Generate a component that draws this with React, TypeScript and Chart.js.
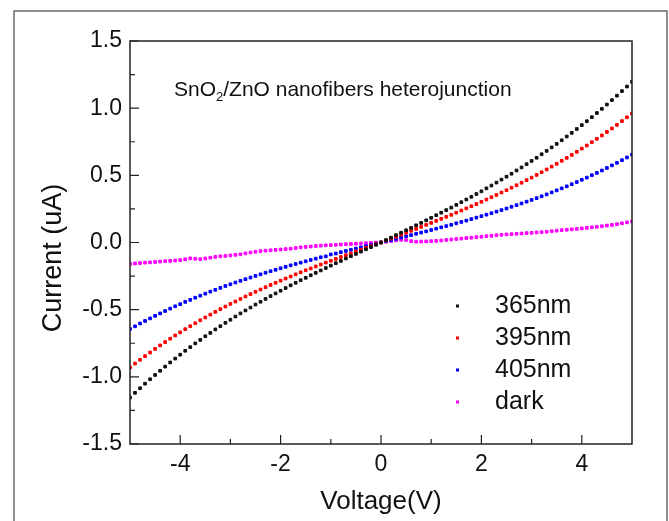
import React, { useEffect, useRef } from "react";
import { Chart, registerables } from "chart.js";

Chart.register(...registerables);

const VOLTAGE = [
  -5.0, -4.9, -4.8, -4.7, -4.6, -4.5, -4.4, -4.3, -4.2, -4.1,
  -4.0, -3.9, -3.8, -3.7, -3.6, -3.5, -3.4, -3.3, -3.2, -3.1,
  -3.0, -2.9, -2.8, -2.7, -2.6, -2.5, -2.4, -2.3, -2.2, -2.1,
  -2.0, -1.9, -1.8, -1.7, -1.6, -1.5, -1.4, -1.3, -1.2, -1.1,
  -1.0, -0.9, -0.8, -0.7, -0.6, -0.5, -0.4, -0.3, -0.2, -0.1,
  0.0,
  0.1, 0.2, 0.3, 0.4, 0.5, 0.6, 0.7, 0.8, 0.9, 1.0,
  1.1, 1.2, 1.3, 1.4, 1.5, 1.6, 1.7, 1.8, 1.9, 2.0,
  2.1, 2.2, 2.3, 2.4, 2.5, 2.6, 2.7, 2.8, 2.9, 3.0,
  3.1, 3.2, 3.3, 3.4, 3.5, 3.6, 3.7, 3.8, 3.9, 4.0,
  4.1, 4.2, 4.3, 4.4, 4.5, 4.6, 4.7, 4.8, 4.9, 5.0,
];

const I_365 = [
  -1.154, -1.119, -1.085, -1.051, -1.018, -0.986, -0.955, -0.924, -0.893, -0.864,
  -0.835, -0.806, -0.779, -0.751, -0.725, -0.698, -0.673, -0.647, -0.623, -0.598,
  -0.575, -0.551, -0.528, -0.506, -0.484, -0.462, -0.441, -0.420, -0.399, -0.379,
  -0.359, -0.339, -0.319, -0.300, -0.281, -0.263, -0.244, -0.226, -0.208, -0.190,
  -0.172, -0.154, -0.137, -0.119, -0.102, -0.085, -0.068, -0.051, -0.034, -0.017,
  0.0,
  0.018, 0.036, 0.055, 0.073, 0.091, 0.109, 0.128, 0.146, 0.165, 0.184,
  0.203, 0.222, 0.241, 0.260, 0.280, 0.300, 0.320, 0.340, 0.361, 0.381,
  0.403, 0.424, 0.446, 0.468, 0.490, 0.512, 0.536, 0.559, 0.583, 0.607,
  0.631, 0.657, 0.682, 0.708, 0.734, 0.761, 0.789, 0.816, 0.845, 0.874,
  0.903, 0.933, 0.964, 0.995, 1.027, 1.060, 1.093, 1.127, 1.161, 1.196,
];

const I_395 = [
  -0.930, -0.901, -0.873, -0.846, -0.819, -0.792, -0.766, -0.741, -0.716, -0.692,
  -0.669, -0.645, -0.623, -0.601, -0.579, -0.558, -0.537, -0.516, -0.496, -0.477,
  -0.457, -0.439, -0.420, -0.402, -0.384, -0.367, -0.350, -0.333, -0.316, -0.300,
  -0.284, -0.268, -0.253, -0.237, -0.222, -0.207, -0.193, -0.178, -0.164, -0.150,
  -0.136, -0.122, -0.108, -0.094, -0.081, -0.067, -0.054, -0.040, -0.027, -0.013,
  0.0,
  0.014, 0.029, 0.043, 0.058, 0.072, 0.087, 0.101, 0.116, 0.131, 0.146,
  0.161, 0.176, 0.191, 0.206, 0.222, 0.238, 0.254, 0.270, 0.286, 0.303,
  0.320, 0.337, 0.354, 0.372, 0.389, 0.408, 0.426, 0.445, 0.464, 0.483,
  0.503, 0.523, 0.544, 0.565, 0.586, 0.608, 0.630, 0.652, 0.675, 0.699,
  0.722, 0.747, 0.772, 0.797, 0.823, 0.849, 0.876, 0.904, 0.932, 0.960,
];

const I_405 = [
  -0.644, -0.624, -0.603, -0.584, -0.565, -0.546, -0.528, -0.510, -0.492, -0.475,
  -0.459, -0.442, -0.427, -0.411, -0.396, -0.381, -0.366, -0.352, -0.338, -0.324,
  -0.311, -0.298, -0.285, -0.273, -0.261, -0.249, -0.237, -0.225, -0.214, -0.203,
  -0.192, -0.181, -0.170, -0.160, -0.150, -0.140, -0.130, -0.120, -0.110, -0.103,
  -0.089, -0.082, -0.072, -0.063, -0.054, -0.045, -0.036, -0.027, -0.018, -0.009,
  0.0,
  0.009, 0.018, 0.027, 0.037, 0.046, 0.055, 0.065, 0.074, 0.083, 0.093,
  0.103, 0.113, 0.122, 0.132, 0.143, 0.153, 0.163, 0.174, 0.185, 0.196,
  0.207, 0.218, 0.230, 0.241, 0.253, 0.266, 0.278, 0.291, 0.304, 0.317,
  0.330, 0.344, 0.358, 0.373, 0.388, 0.403, 0.418, 0.434, 0.450, 0.467,
  0.483, 0.501, 0.518, 0.536, 0.555, 0.574, 0.593, 0.613, 0.633, 0.654,
];

const I_DARK = [
  -0.159, -0.156, -0.153, -0.150, -0.148, -0.145, -0.142, -0.139, -0.137, -0.134,
  -0.131, -0.125, -0.118, -0.121, -0.124, -0.119, -0.113, -0.107, -0.103, -0.100,
  -0.096, -0.092, -0.088, -0.081, -0.074, -0.069, -0.064, -0.061, -0.058, -0.055,
  -0.052, -0.049, -0.046, -0.041, -0.036, -0.033, -0.030, -0.026, -0.023, -0.021,
  -0.019, -0.017, -0.015, -0.013, -0.011, -0.009, -0.007, -0.005, -0.003, -0.001,
  0.002,
  0.006, 0.011, 0.016, 0.020, 0.018, 0.010, 0.006, 0.007, 0.008, 0.010,
  0.012, 0.015, 0.019, 0.022, 0.026, 0.029, 0.033, 0.036, 0.040, 0.043,
  0.047, 0.050, 0.054, 0.057, 0.060, 0.062, 0.065, 0.067, 0.070, 0.072,
  0.075, 0.077, 0.080, 0.084, 0.088, 0.092, 0.095, 0.098, 0.101, 0.105,
  0.109, 0.113, 0.117, 0.121, 0.126, 0.131, 0.136, 0.143, 0.150, 0.157,
];

const SERIES_LABELS = ["365nm", "395nm", "405nm", "dark"];
const SERIES_COLORS = ["#111111", "#ff0000", "#0000ff", "#ff00ff"];
const SERIES_VALUES = [I_365, I_395, I_405, I_DARK];

const X_TICKS = [-4, -2, 0, 2, 4];
const X_MINOR = [-3, -1, 1, 3];
const Y_TICKS = [-1.5, -1.0, -0.5, 0.0, 0.5, 1.0, 1.5];
const Y_MINOR = [-1.25, -0.75, -0.25, 0.25, 0.75, 1.25];

const X_TITLE = "Voltage(V)";
const Y_TITLE = "Current (uA)";
const TITLE_MAIN = "SnO";
const TITLE_SUB = "2";
const TITLE_REST = "/ZnO nanofibers heterojunction";

const FONT = "'Liberation Sans', Arial, sans-serif";

const decorPlugin = {
  id: "decor",
  beforeDraw(chart: any) {
    const { ctx, width, height } = chart;
    ctx.save();
    ctx.fillStyle = "#ffffff";
    ctx.fillRect(0, 0, width, height);
    ctx.restore();
  },
  afterDraw(chart: any) {
    const { ctx, chartArea: a, scales } = chart;
    const xs = scales.x;
    const ys = scales.y;
    ctx.save();

    // outer frame
    ctx.strokeStyle = "#6a6a6a";
    ctx.lineWidth = 1.5;
    ctx.strokeRect(14, 11, 653, 540);

    // plot box
    ctx.strokeStyle = "#222222";
    ctx.lineWidth = 1.5;
    ctx.strokeRect(a.left, a.top, a.right - a.left, a.bottom - a.top);

    // inward ticks
    ctx.lineWidth = 1.2;
    ctx.beginPath();
    Y_TICKS.forEach((v) => {
      const y = ys.getPixelForValue(v);
      ctx.moveTo(a.left, y);
      ctx.lineTo(a.left + 9, y);
    });
    Y_MINOR.forEach((v) => {
      const y = ys.getPixelForValue(v);
      ctx.moveTo(a.left, y);
      ctx.lineTo(a.left + 5, y);
    });
    X_TICKS.forEach((v) => {
      const x = xs.getPixelForValue(v);
      ctx.moveTo(x, a.bottom);
      ctx.lineTo(x, a.bottom - 9);
    });
    X_MINOR.forEach((v) => {
      const x = xs.getPixelForValue(v);
      ctx.moveTo(x, a.bottom);
      ctx.lineTo(x, a.bottom - 5);
    });
    ctx.stroke();

    // in-plot title with subscript
    ctx.fillStyle = "#111111";
    ctx.textBaseline = "alphabetic";
    ctx.textAlign = "left";
    ctx.font = `21px ${FONT}`;
    let tx = 174;
    const ty = 96;
    ctx.fillText(TITLE_MAIN, tx, ty);
    tx += ctx.measureText(TITLE_MAIN).width;
    ctx.font = `13px ${FONT}`;
    ctx.fillText(TITLE_SUB, tx, ty + 5);
    tx += ctx.measureText(TITLE_SUB).width;
    ctx.font = `21px ${FONT}`;
    ctx.fillText(TITLE_REST, tx, ty);

    // y axis title
    ctx.save();
    ctx.translate(54, 258);
    ctx.rotate(-Math.PI / 2);
    ctx.font = `27px ${FONT}`;
    ctx.textAlign = "center";
    ctx.textBaseline = "middle";
    ctx.fillText(Y_TITLE, 0, 0);
    ctx.restore();

    // legend
    chart.data.datasets.forEach((ds: any, i: number) => {
      const cy = 306 + i * 32;
      ctx.fillStyle = ds.backgroundColor;
      ctx.fillRect(456, cy - 1.5, 3, 3);
      ctx.fillStyle = "#111111";
      ctx.font = `25px ${FONT}`;
      ctx.textAlign = "left";
      ctx.textBaseline = "middle";
      ctx.fillText(ds.label, 495, cy);
    });

    ctx.restore();
  },
};

export default function App() {
  const canvasRef = useRef<HTMLCanvasElement | null>(null);

  useEffect(() => {
    const canvas = canvasRef.current;
    if (!canvas) return;
    const datasets = SERIES_VALUES.map((vals, i) => ({
      label: SERIES_LABELS[i],
      data: VOLTAGE.map((v, j) => ({ x: v, y: vals[j] })),
      backgroundColor: SERIES_COLORS[i],
      borderColor: SERIES_COLORS[i],
      pointStyle: "rect",
      pointRadius: 1.9,
      pointBorderWidth: 1,
      showLine: false,
    }));

    const chart = new Chart(canvas, {
      type: "scatter",
      data: { datasets },
      options: {
        animation: false,
        responsive: false,
        maintainAspectRatio: false,
        devicePixelRatio: 1,
        layout: { padding: { left: 0, right: 37, top: 41, bottom: 0 } },
        plugins: {
          legend: { display: false },
          tooltip: { enabled: false },
          title: { display: false },
        },
        scales: {
          x: {
            type: "linear",
            min: -5,
            max: 5,
            afterBuildTicks: (s: any) => {
              s.ticks = X_TICKS.map((v) => ({ value: v }));
            },
            afterFit: (s: any) => {
              s.height = 77;
            },
            grid: { display: false, drawTicks: false },
            border: { display: false },
            ticks: {
              color: "#111111",
              font: { family: FONT, size: 23 },
              padding: 7,
              maxRotation: 0,
              callback: (v: any) => String(v),
            },
            title: {
              display: true,
              text: X_TITLE,
              color: "#111111",
              font: { family: FONT, size: 26 },
              padding: { top: 0, bottom: 4 },
            },
          },
          y: {
            type: "linear",
            min: -1.5,
            max: 1.5,
            afterBuildTicks: (s: any) => {
              s.ticks = Y_TICKS.map((v) => ({ value: v }));
            },
            afterFit: (s: any) => {
              s.width = 130;
            },
            grid: { display: false, drawTicks: false },
            border: { display: false },
            ticks: {
              color: "#111111",
              font: { family: FONT, size: 23 },
              padding: 8,
              callback: (v: any) => Number(v).toFixed(1),
            },
          },
        },
      },
      plugins: [decorPlugin],
    } as any);

    return () => {
      chart.destroy();
    };
  }, []);

  return (
    <div style={{ position: "absolute", left: 0, top: 0, width: 669, height: 521 }}>
      <canvas ref={canvasRef} width={669} height={521} style={{ display: "block" }} />
    </div>
  );
}
